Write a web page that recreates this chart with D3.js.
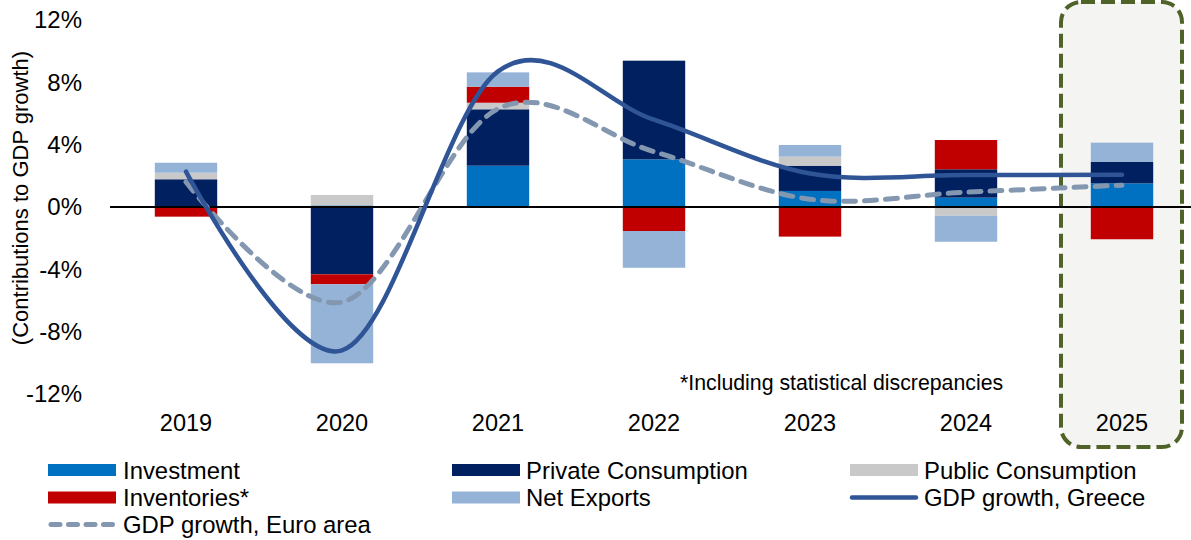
<!DOCTYPE html>
<html>
<head>
<meta charset="utf-8">
<script src="https://cdn.jsdelivr.net/npm/d3@7"></script>
<style>
  html, body { margin: 0; padding: 0; background: #ffffff; }
  svg { display: block; font-family: "Liberation Sans", Arial, sans-serif; }
</style>
</head>
<body>
<svg id="chart" width="1191" height="540"></svg>
<script>
// Contributions to GDP growth (percentage points)
const years        = ["2019", "2020", "2021", "2022", "2023", "2024", "2025"];
const investment   = [0.00,  0.10, 2.65,  3.06,  1.03,  0.60,  1.52];
const privateCons  = [1.78, -4.32, 3.62,  6.33,  1.62,  1.82,  1.37];
const publicCons   = [0.42,  0.67, 0.42,  0.00,  0.58, -0.56,  0.00];
const inventories  = [-0.62, -0.64, 1.03, -1.54, -1.90,  1.88, -2.07];
const netExports   = [0.64, -5.07, 0.92, -2.36,  0.75, -1.67,  1.24];

// Real GDP growth (%)
const gdpGreece    = [2.27, -9.20, 8.70, 5.60, 2.15, 2.05, 2.07];
const gdpEuroArea  = [1.60, -6.10, 6.30, 3.55, 0.50, 0.95, 1.40];

const yTicks = [-12, -8, -4, 0, 4, 8, 12];
const highlightYear = "2025";

const seriesKeys   = ["Investment", "Private Consumption", "Public Consumption", "Inventories*", "Net Exports"];
const seriesValues = [investment, privateCons, publicCons, inventories, netExports];
const seriesColors = ["#0070C0", "#002060", "#C9C9C9", "#C00000", "#95B3D7"];

const svg = d3.select("#chart");
const FONT = "'Liberation Sans', Arial, sans-serif";

const x = d3.scaleBand().domain(years).range([108, 1200]).paddingInner(0.6).paddingOuter(0.3);
const y = d3.scaleLinear().domain([-12, 12]).range([394, 20]);
const xc = d => x(d) + x.bandwidth() / 2;

// Highlighted forecast year
const hx = xc(highlightYear);
svg.append("rect")
  .attr("x", hx - 61).attr("y", 2)
  .attr("width", 121).attr("height", 445)
  .attr("rx", 20).attr("ry", 20)
  .attr("fill", "#F4F4F2")
  .attr("stroke", "#4F6228").attr("stroke-width", 4)
  .attr("stroke-dasharray", "14 6");

// Stacked bars
const rows = years.map((yr, i) => {
  const r = { year: yr };
  seriesKeys.forEach((k, j) => r[k] = seriesValues[j][i]);
  return r;
});
const stack = d3.stack().keys(seriesKeys).offset(d3.stackOffsetDiverging);
const stacked = stack(rows);

svg.append("g").selectAll("g")
  .data(stacked).join("g")
  .attr("fill", (d, i) => seriesColors[i])
  .selectAll("rect")
  .data(d => d).join("rect")
  .attr("x", d => x(d.data.year))
  .attr("width", x.bandwidth())
  .attr("y", d => y(Math.max(d[0], d[1])))
  .attr("height", d => Math.abs(y(d[0]) - y(d[1])));

// Zero line
svg.append("line")
  .attr("x1", 110).attr("x2", 1191)
  .attr("y1", y(0)).attr("y2", y(0))
  .attr("stroke", "#000").attr("stroke-width", 2);

// GDP growth lines
const line = d3.line()
  .x((d, i) => xc(years[i]))
  .y(d => y(d))
  .curve(d3.curveCatmullRom.alpha(0));

svg.append("path")
  .datum(gdpEuroArea)
  .attr("d", line)
  .attr("fill", "none")
  .attr("stroke", "#8497B0").attr("stroke-width", 5)
  .attr("stroke-dasharray", "12 9")
  .attr("stroke-linecap", "round");

svg.append("path")
  .datum(gdpGreece)
  .attr("d", line)
  .attr("fill", "none")
  .attr("stroke", "#2F5597").attr("stroke-width", 4.5)
  .attr("stroke-linecap", "round");

// Y axis tick labels
const yAxis = d3.axisLeft(y).tickValues(yTicks).tickSize(0).tickPadding(0)
  .tickFormat(d => d + "%");
const yg = svg.append("g").attr("transform", "translate(82,0)").call(yAxis);
yg.select(".domain").remove();
yg.selectAll("text").attr("font-size", 24).attr("font-family", FONT).attr("fill", "#000");

// X axis labels
const xAxis = d3.axisBottom(x).tickSize(0).tickPadding(0);
const xg = svg.append("g").attr("transform", "translate(0,414)").call(xAxis);
xg.select(".domain").remove();
xg.selectAll("text").attr("font-size", 23.5).attr("font-family", FONT).attr("fill", "#000");

// Y axis title
svg.append("text")
  .attr("transform", "translate(28,198) rotate(-90)")
  .attr("text-anchor", "middle")
  .attr("font-size", 22).attr("font-family", FONT)
  .text("(Contributions to GDP growth)");

// Footnote
svg.append("text")
  .attr("x", 680).attr("y", 390)
  .attr("font-size", 21.3).attr("font-family", FONT)
  .text("*Including statistical discrepancies");

// Legend
const legendItems = [
  { label: "Investment",            type: "rect", color: seriesColors[0], col: 0, row: 0 },
  { label: "Private Consumption",   type: "rect", color: seriesColors[1], col: 1, row: 0 },
  { label: "Public Consumption",    type: "rect", color: seriesColors[2], col: 2, row: 0 },
  { label: "Inventories*",          type: "rect", color: seriesColors[3], col: 0, row: 1 },
  { label: "Net Exports",           type: "rect", color: seriesColors[4], col: 1, row: 1 },
  { label: "GDP growth, Greece",    type: "line", color: "#2F5597", col: 2, row: 1 },
  { label: "GDP growth, Euro area", type: "dash", color: "#8497B0", col: 0, row: 2 }
];
const colX = [48, 452, 850];
const rowY = [470, 497.5, 524.5];

const lg = svg.append("g").selectAll("g").data(legendItems).join("g")
  .attr("transform", d => `translate(${colX[d.col]},${rowY[d.row]})`);

lg.filter(d => d.type === "rect").append("rect")
  .attr("x", 0).attr("y", -6).attr("width", 68).attr("height", 12)
  .attr("fill", d => d.color);
lg.filter(d => d.type === "line").append("line")
  .attr("x1", 2).attr("x2", 66).attr("y1", 0).attr("y2", 0)
  .attr("stroke", d => d.color).attr("stroke-width", 4.5).attr("stroke-linecap", "round");
lg.filter(d => d.type === "dash").append("line")
  .attr("x1", 3).attr("x2", 68).attr("y1", 0).attr("y2", 0)
  .attr("stroke", d => d.color).attr("stroke-width", 5).attr("stroke-linecap", "round")
  .attr("stroke-dasharray", "9 8.5");
lg.append("text")
  .attr("x", d => d.col === 0 ? 75 : 74).attr("y", 8.5)
  .attr("font-size", 23.9).attr("font-family", FONT)
  .text(d => d.label);
</script>
</body>
</html>
